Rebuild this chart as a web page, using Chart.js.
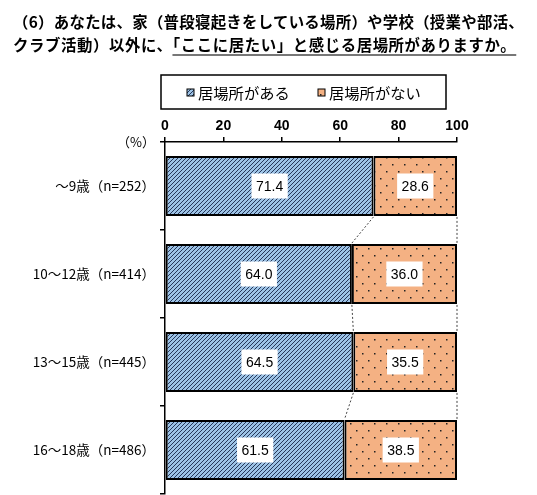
<!DOCTYPE html>
<html lang="ja">
<head>
<meta charset="utf-8">
<script src="https://cdn.jsdelivr.net/npm/chart.js@4"></script>
<style>
  html, body { margin: 0; padding: 0; background: #fff; }
  #wrap { position: relative; width: 537px; height: 495px; overflow: hidden; }
  #title { position: absolute; left: 13px; top: 10px; font-family: "Noto Sans CJK JP", sans-serif; font-weight: bold; font-size: 15.4px; line-height: 23px; color: #000; white-space: nowrap; }
  #title .l1 { letter-spacing: 0.3px; }
  #title .l2 { letter-spacing: 0.6px; }
  #title .u { text-decoration: underline; text-decoration-color: #777; text-decoration-thickness: 2px; text-underline-offset: 3px; }
  canvas { position: absolute; left: 0; top: 0; }
</style>
</head>
<body>
<div id="wrap">
  <canvas id="c" width="537" height="495"></canvas>
  <div id="title"><span class="l1">（6）あなたは、家（普段寝起きをしている場所）や学校（授業や部活、</span><br><span class="l2">クラブ活動）以外に、<span class="u">「ここに居たい」と感じる居場所がありますか。</span></span></div>
</div>
<script>
const categories = ['～9歳（n=252）', '10～12歳（n=414）', '13～15歳（n=445）', '16～18歳（n=486）'];
const seriesNames = ['居場所がある', '居場所がない'];
const yesValues = [71.4, 64.0, 64.5, 61.5];
const noValues = [28.6, 36.0, 35.5, 38.5];
const xTicks = [0, 20, 40, 60, 80, 100];
const unitLabel = '（%）';

function hatchPattern() {
  const s = 4;
  const t = document.createElement('canvas');
  t.width = s; t.height = s;
  const g = t.getContext('2d');
  g.fillStyle = '#9DC3E6';
  g.fillRect(0, 0, s, s);
  g.strokeStyle = '#26385a';
  g.lineWidth = 1;
  g.beginPath();
  g.moveTo(-1, s + 1); g.lineTo(s + 1, -1);
  g.moveTo(-1, 1); g.lineTo(1, -1);
  g.moveTo(s - 1, s + 1); g.lineTo(s + 1, s - 1);
  g.stroke();
  return g.createPattern(t, 'repeat');
}
function dotPattern() {
  const w = 12, h = 14;
  const t = document.createElement('canvas');
  t.width = w; t.height = h;
  const g = t.getContext('2d');
  g.fillStyle = '#F4B183';
  g.fillRect(0, 0, w, h);
  g.fillStyle = '#222';
  g.fillRect(2, 3, 1.5, 1.5);
  g.fillRect(8, 10, 1.5, 1.5);
  return g.createPattern(t, 'repeat');
}
const ctx0 = document.getElementById('c').getContext('2d');
const fills = [hatchPattern(), dotPattern()];

const overlay = {
  id: 'overlay',
  afterDatasetsDraw(chart) {
    const ctx = chart.ctx;
    const m0 = chart.getDatasetMeta(0).data;
    const m1 = chart.getDatasetMeta(1).data;
    ctx.save();
    ctx.strokeStyle = '#444';
    ctx.lineWidth = 1;
    ctx.setLineDash([2, 2]);
    [m0, m1].forEach(meta => {
      for (let i = 0; i < meta.length - 1; i++) {
        const a = meta[i], b = meta[i + 1];
        ctx.beginPath();
        ctx.moveTo(a.x, a.y + a.height / 2 + 1);
        ctx.lineTo(b.x, b.y - b.height / 2 - 1);
        ctx.stroke();
      }
    });
    ctx.restore();
    // data labels
    ctx.save();
    ctx.font = '14px "Liberation Sans", Arial, sans-serif';
    ctx.textAlign = 'center';
    ctx.textBaseline = 'middle';
    [m0, m1].forEach((meta, di) => {
      const vals = chart.data.datasets[di].data;
      meta.forEach((el, i) => {
        const txt = vals[i].toFixed(1);
        const cx = (el.x + el.base) / 2;
        const w = ctx.measureText(txt).width + 9;
        const h = 25;
        ctx.fillStyle = '#fff';
        ctx.fillRect(cx - w / 2, el.y - h / 2, w, h);
        ctx.fillStyle = '#000';
        ctx.fillText(txt, cx, el.y + 1);
      });
    });
    ctx.restore();
  },
  afterDraw(chart) {
    const ctx = chart.ctx;
    const area = chart.chartArea;
    ctx.save();
    // unit label
    ctx.font = '13px "Noto Sans CJK JP", sans-serif';
    ctx.fillStyle = '#000';
    ctx.textAlign = 'right';
    ctx.textBaseline = 'middle';
    ctx.fillText(unitLabel, area.left - 10, area.top);
    // legend box
    const bx = area.left - 4, by = 75, bw = 285, bh = 34;
    ctx.strokeStyle = '#000';
    ctx.lineWidth = 1.5;
    ctx.strokeRect(bx, by, bw, bh);
    ctx.font = '15.3px "Noto Sans CJK JP", sans-serif';
    ctx.textAlign = 'left';
    const items = [[187, seriesNames[0]], [318, seriesNames[1]]];
    items.forEach(([x, name], i) => {
      ctx.fillStyle = fills[i];
      ctx.fillRect(x, 89, 7, 7);
      ctx.lineWidth = 1;
      ctx.strokeRect(x, 89, 7, 7);
      ctx.fillStyle = '#000';
      ctx.fillText(name, x + 11, 93);
    });
    ctx.restore();
  }
};

new Chart(ctx0, {
  type: 'bar',
  data: {
    labels: categories,
    datasets: [
      { label: seriesNames[0], data: yesValues, backgroundColor: fills[0], borderColor: '#000', borderWidth: 2, borderSkipped: false },
      { label: seriesNames[1], data: noValues, backgroundColor: fills[1], borderColor: '#000', borderWidth: 2, borderSkipped: false }
    ]
  },
  options: {
    indexAxis: 'y',
    responsive: false,
    animation: false,
    events: [],
    layout: { padding: { left: 0, right: 80, top: 112, bottom: 1 } },
    datasets: { bar: { categoryPercentage: 1, barPercentage: 0.68 } },
    plugins: { legend: { display: false }, tooltip: { enabled: false } },
    scales: {
      x: {
        position: 'top',
        stacked: true,
        min: 0, max: 100,
        afterBuildTicks(scale) { scale.ticks = xTicks.map(v => ({ value: v })); },
        afterFit(scale) { scale.height = 30; scale.paddingLeft = 0; scale.paddingRight = 0; },
        grid: { drawOnChartArea: false, drawTicks: true, tickLength: 5, color: '#000', lineWidth: 1.5 },
        border: { color: '#000', width: 1.5 },
        ticks: { color: '#000', padding: 2, font: { family: '"Liberation Sans", Arial, sans-serif', size: 14, weight: 'bold' } }
      },
      y: {
        stacked: true,
        afterFit(scale) { scale.width = 165; scale.paddingTop = 0; scale.paddingBottom = 0; },
        grid: { offset: true, drawOnChartArea: false, drawTicks: true, tickLength: 5, color: '#000', lineWidth: 1.5 },
        border: { color: '#000', width: 1.5 },
        ticks: { color: '#000', padding: 5, font: { family: '"Noto Sans CJK JP", sans-serif', size: 13.5 } }
      }
    }
  },
  plugins: [overlay]
});
</script>
</body>
</html>
